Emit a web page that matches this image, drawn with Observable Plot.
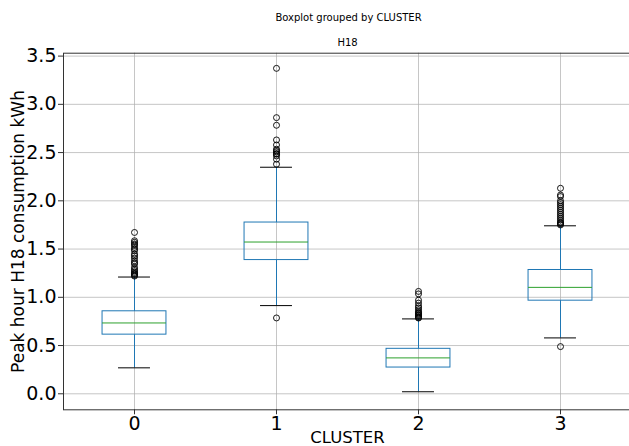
<!DOCTYPE html>
<html>
<head>
<meta charset="utf-8">
<script src="https://cdn.jsdelivr.net/npm/d3@7"></script>
<script src="https://cdn.jsdelivr.net/npm/@observablehq/plot@0.6"></script>
<style>
  html, body { margin: 0; padding: 0; background: #fff; overflow: hidden; width: 629px; height: 446px; }
  svg { display: block; }
</style>
</head>
<body>
<div id="chart"></div>
<script>
// ---- data ----
const clusters = [0, 1, 2, 3];
const q1 = [0.613, 1.386, 0.272, 0.965];
const medians = [0.734, 1.573, 0.372, 1.103];
const q3 = [0.855, 1.775, 0.466, 1.283];
const whiskerLow = [0.269, 0.914, 0.021, 0.579];
const whiskerHigh = [1.210, 2.348, 0.776, 1.741];
const outliers0 = [1.672, 1.586, 1.57, 1.552, 1.54, 1.517, 1.50, 1.483, 1.448, 1.43, 1.407, 1.379, 1.36, 1.345, 1.310, 1.29, 1.276, 1.26, 1.248, 1.24, 1.229, 1.22];
const outliers1 = [3.373, 2.862, 2.783, 2.631, 2.579, 2.535, 2.52, 2.507, 2.49, 2.483, 2.465, 2.431, 2.380, 0.786];
const outliers2 = [1.061, 1.035, 0.97, 0.94, 0.91, 0.89, 0.87, 0.85, 0.84, 0.83, 0.82, 0.81, 0.80, 0.79, 0.785];
const outliers3 = [2.13, 2.06, 2.044, 2.00, 1.98, 1.96, 1.94, 1.92, 1.90, 1.88, 1.86, 1.84, 1.82, 1.80, 1.78, 1.77, 1.76, 1.75, 0.489];
const yTicks = [0, 0.5, 1.0, 1.5, 2.0, 2.5, 3.0, 3.5];
const xTickLabels = ["0", "1", "2", "3"];
const suptitle = "Boxplot grouped by CLUSTER";
const subtitle = "H18";
const xLabel = "CLUSTER";
const yLabel = "Peak hour H18 consumption kWh";

// ---- build tables ----
const boxWidth = 0.45;
const stats = clusters.map((c, i) => ({
  c, q1: q1[i], med: medians[i], q3: q3[i], lo: whiskerLow[i], hi: whiskerHigh[i],
  x1: c - boxWidth / 2, x2: c + boxWidth / 2,
  cx1: c - boxWidth / 4, cx2: c + boxWidth / 4
}));
const allOut = [outliers0, outliers1, outliers2, outliers3];
const fliers = allOut.flatMap((arr, i) => arr.map(v => ({c: clusters[i], v})));

const font = "DejaVu Sans";
const blue = "#1f77b4";

const chart = Plot.plot({
  width: 629,
  height: 446,
  marginLeft: 63,
  marginRight: -2,
  marginTop: 52.7,
  marginBottom: 36.7,
  style: {fontFamily: font, background: "#fff", overflow: "visible"},
  x: {type: "linear", domain: [-0.5, 3.5]},
  y: {domain: [-0.166, 3.53]},
  marks: [
    Plot.gridX(clusters, {stroke: "#b0b0b0", strokeOpacity: 0.8, strokeWidth: 0.9}),
    Plot.gridY(yTicks, {stroke: "#b0b0b0", strokeOpacity: 0.8, strokeWidth: 0.9}),
    // whiskers
    Plot.ruleX(stats, {x: "c", y1: "q3", y2: "hi", stroke: blue, strokeWidth: 1}),
    Plot.ruleX(stats, {x: "c", y1: "lo", y2: "q1", stroke: blue, strokeWidth: 1}),
    // caps
    Plot.ruleY(stats, {x1: "cx1", x2: "cx2", y: "hi", stroke: "#000", strokeWidth: 1}),
    Plot.ruleY(stats, {x1: "cx1", x2: "cx2", y: "lo", stroke: "#000", strokeWidth: 1}),
    // boxes
    Plot.rect(stats, {x1: "x1", x2: "x2", y1: "q1", y2: "q3", fill: "none", stroke: blue, strokeWidth: 1}),
    // medians
    Plot.ruleY(stats, {x1: "x1", x2: "x2", y: "med", stroke: "#2ca02c", strokeWidth: 1}),
    // fliers
    Plot.dot(fliers, {x: "c", y: "v", r: 3, fill: "none", stroke: "#000", strokeWidth: 0.9}),
    // spines
    Plot.frame({stroke: "#333", strokeWidth: 1}),
    Plot.axisX(clusters, {tickFormat: (d, i) => xTickLabels[i], fontSize: 19, tickSize: 5, tickPadding: 2, label: null, stroke: "#333"}),
    Plot.axisY(yTicks, {tickFormat: d3.format(".1f"), fontSize: 19, tickSize: 5, tickPadding: 2, label: null, stroke: "#333"}),
    // labels and titles
    Plot.text([xLabel], {text: d => d, frameAnchor: "bottom", dy: 28, lineAnchor: "middle", fontSize: 16.5, fill: "#000"}),
    Plot.text([yLabel], {text: d => d, frameAnchor: "left", dx: -45, rotate: -90, lineAnchor: "middle", textAnchor: "middle", fontSize: 17, fill: "#000"}),
    Plot.text([subtitle], {text: d => d, frameAnchor: "top", dy: -10, lineAnchor: "middle", fontSize: 10, fill: "#000"}),
    Plot.text([suptitle], {text: d => d, frameAnchor: "top", dx: 1, dy: -35, lineAnchor: "middle", fontSize: 10, fill: "#000"})
  ]
});
document.getElementById("chart").appendChild(chart);
</script>
</body>
</html>
